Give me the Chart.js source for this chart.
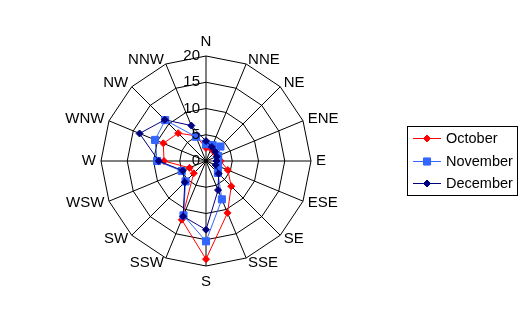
<!DOCTYPE html>
<html><head><meta charset="utf-8">
<script src="https://cdn.jsdelivr.net/npm/chart.js@4/dist/chart.umd.min.js"></script>
<style>html,body{margin:0;padding:0;background:#fff;overflow:hidden}canvas{display:block}</style>
</head><body>
<canvas id="c" width="527" height="322"></canvas>
<script>
const directions = ["N","NNE","NE","ENE","E","ESE","SE","SSE","S","SSW","SW","WSW","W","WNW","NW","NNW"];
const october  = [2.5, 2.5, 2.3, 2.5, 2.8, 4.5, 6.8, 10.7, 18.7, 12.1, 3.3, 3.4, 8.0, 8.8, 7.5, 5.2];
const november = [3.2, 3.3, 3.9, 2.5, 2.3, 2.5, 3.2, 7.9, 15.3, 11.2, 5.5, 5.0, 9.3, 10.5, 11.0, 5.0];
const december = [3.8, 2.9, 2.5, 2.2, 2.0, 2.0, 3.4, 6.0, 13.1, 11.4, 5.7, 4.8, 9.0, 13.7, 11.1, 7.3];
const seriesNames = ["October", "November", "December"];
const tickValues = [0, 5, 10, 15, 20];
const tickLabels = ["0", "5", "10", "15", "20"];

const FONT = '"Liberation Sans", Arial, sans-serif';

function series(label, data, color, style, radius, order) {
  return {
    label, data, order,
    borderColor: color, backgroundColor: color,
    borderWidth: 1, fill: false, tension: 0,
    pointStyle: style, pointRadius: radius,
    pointBackgroundColor: color, pointBorderColor: color, pointBorderWidth: 1
  };
}

const labelPlugin = {
  id: 'excelLabels',
  afterDraw(chart) {
    const ctx = chart.ctx;
    const scale = chart.scales.r;
    ctx.save();
    ctx.fillStyle = '#000';
    ctx.font = '15px ' + FONT;
    directions.forEach((d, i) => {
      const deg = Math.round(scale.getIndexAngle(i) * 180 / Math.PI) % 360;
      let dist = 110, align, base;
      if (deg === 0) { dist = 112; align = 'center'; base = 'bottom'; }
      else if (deg === 180) { dist = 113; align = 'center'; base = 'top'; }
      else { align = deg < 180 ? 'left' : 'right'; base = 'middle'; }
      const p = scale.getPointPosition(i, dist);
      ctx.textAlign = align; ctx.textBaseline = base;
      ctx.fillText(d, p.x, p.y);
    });
    ctx.textAlign = 'right'; ctx.textBaseline = 'middle';
    tickValues.forEach((v, i) => {
      const r = scale.getDistanceFromCenterForValue(v);
      ctx.fillText(tickLabels[i], scale.xCenter - 6, scale.yCenter - r);
    });
    ctx.strokeStyle = '#000'; ctx.lineWidth = 1;
    ctx.strokeRect(407.5, 126.5, 110, 69);
    ctx.font = '14.5px ' + FONT;
    ctx.textAlign = 'left'; ctx.textBaseline = 'middle';
    const ys = [138.5, 161.5, 183.5];
    chart.data.datasets.forEach((ds, i) => {
      const y = ys[i];
      ctx.strokeStyle = ds.borderColor; ctx.lineWidth = 1;
      ctx.beginPath(); ctx.moveTo(413, y); ctx.lineTo(441, y); ctx.stroke();
      Chart.helpers.drawPoint(ctx, {pointStyle: ds.pointStyle, radius: ds.pointRadius, rotation: 0, borderWidth: 1}, 427, y);
      ctx.fillStyle = ds.borderColor; ctx.fill();
      ctx.fillStyle = '#000';
      ctx.fillText(seriesNames[i], 446, y);
    });
    ctx.restore();
  }
};

new Chart(document.getElementById('c'), {
  type: 'radar',
  data: {
    labels: directions,
    datasets: [
      series(seriesNames[0], october,  '#FF0000', 'rectRot', 3.5, 3),
      series(seriesNames[1], november, '#3366FF', 'rect', 5, 2),
      series(seriesNames[2], december, '#000080', 'rectRot', 3.5, 1)
    ]
  },
  options: {
    responsive: false, devicePixelRatio: 1, animation: false,
    layout: { padding: { left: 101, right: 216, top: 56, bottom: 56 } },
    plugins: { legend: { display: false }, tooltip: { enabled: false } },
    scales: {
      r: {
        min: 0, max: 20,
        ticks: { stepSize: 5, display: false },
        pointLabels: { display: false },
        grid: { color: '#000', lineWidth: 1 },
        angleLines: { color: '#000', lineWidth: 1 }
      }
    }
  },
  plugins: [labelPlugin]
});
</script>
</body></html>
